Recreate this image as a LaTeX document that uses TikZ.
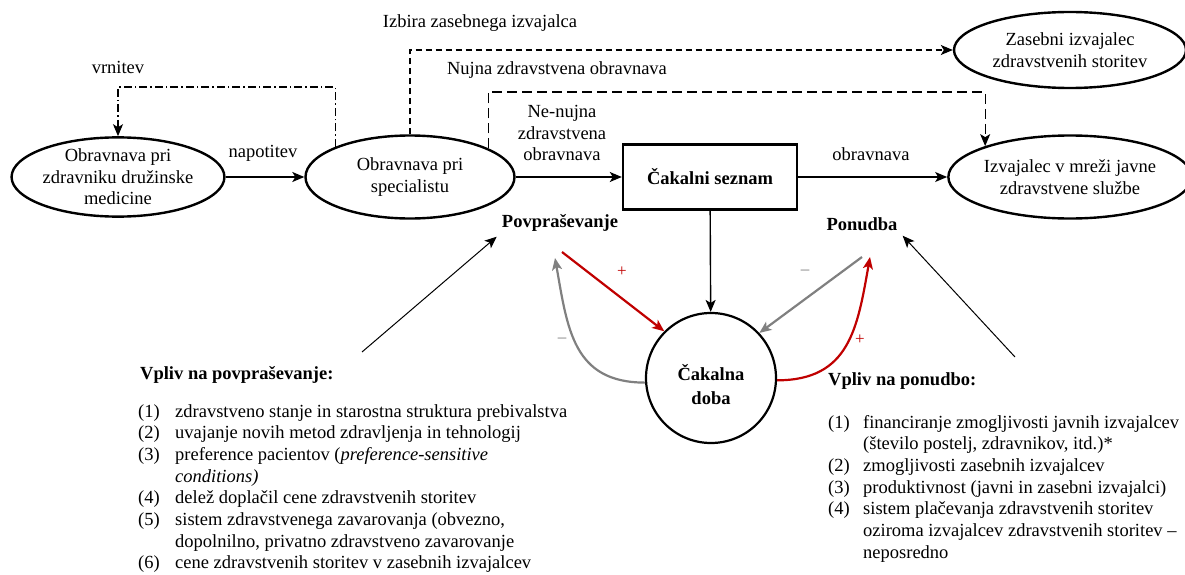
\documentclass[tikz,border=0pt]{standalone}
\usepackage{fontspec}
\setmainfont{Liberation Serif}
\usepackage{tikz}
\usetikzlibrary{positioning, arrows.meta, shapes.geometric}

\definecolor{posred}{RGB}{192,0,0}
\definecolor{neggray}{RGB}{128,128,128}

\begin{document}
\begin{tikzpicture}[x=1pt, y=1pt,
    every node/.style={font=\fontsize{18.5}{21.5}\selectfont, align=center, inner sep=0pt},
    oval/.style={draw, ellipse, line width=2.4pt},
    lbl/.style={inner sep=5pt, font=\fontsize{18.5}{21.5}\selectfont\bfseries},
    sign/.style={font=\fontsize{17}{17}\selectfont},
    listbox/.style={anchor=base west, align=left, font=\fontsize{18.5}{21.7}\selectfont},
    >={Stealth[length=12pt, width=10pt, inset=3pt]},
    flow/.style={->, line width=1.4pt},
    retline/.style={->, line width=1.2pt, dash pattern=on 8pt off 3pt on 1.5pt off 3pt},
    privline/.style={->, line width=1.3pt, dash pattern=on 6pt off 4pt},
    urgline/.style={->, line width=1.3pt, dash pattern=on 10pt off 5pt},
    posarrow/.style={->, line width=2.2pt, posred},
    negarrow/.style={->, line width=2.2pt, neggray},
    infl/.style={->, line width=1pt}
]
\useasboundingbox (0,0) rectangle (1185,-575);

\node[oval, minimum width=211pt, minimum height=79pt] (fam) at (118,-177) {Obravnava pri\\zdravniku družinske\\medicine};
\node[oval, minimum width=209pt, minimum height=83pt] (spec) at (410,-177) {Obravnava pri\\specialistu};
\node[draw, line width=2.4pt, minimum width=174pt, minimum height=65pt, font=\fontsize{18.5}{21.5}\selectfont\bfseries] (wl) at (710,-177) {Čakalni seznam};
\node[oval, minimum width=232pt, minimum height=76pt] (priv) at (1070,-50) {Zasebni izvajalec\\zdravstvenih storitev};
\node[oval, minimum width=232pt, minimum height=83pt] (pub) at (1070,-177) {Izvajalec v mreži javne\\zdravstvene službe};
\node[draw, circle, line width=2.2pt, minimum size=130pt] (wait) at (711,-378) {};
\node[font=\fontsize{18.5}{24}\selectfont\bfseries] (waittxt) at (711,-385) {Čakalna\\doba};

\node (ref) at (263,-153) {napotitev};
\node (ret) at (118,-67) {vrnitev};
\node (choice) at (480,-23) {Izbira zasebnega izvajalca};
\node (urg) at (557,-70) {Nujna zdravstvena obravnava};
\node (nonurg) at (562,-133) {Ne-nujna\\zdravstvena\\obravnava};
\node (treat) at (871,-154) {obravnava};
\node[lbl] (dem) at (560,-223) {Povpraševanje};
\node[lbl] (offer) at (862,-224) {Ponudba};

\draw[flow] (fam) -- (spec);
\draw[flow] (spec) -- (wl);
\draw[flow] (wl) -- (pub);
\draw[flow] (wl) -- (wait);

\coordinate (retc) at (200,-87);
\coordinate (urgc) at (700,-92);
\draw[retline] (spec.158) |- (retc) -| (fam.north);
\draw[privline] (spec.north) |- (priv.west);
\draw[urgline] (spec.20) |- (urgc) -| (pub.160);

\coordinate (demp) at (562,-252);
\coordinate (demm) at (555,-258);
\coordinate (offm) at (862,-257);
\coordinate (offp) at (870,-257);
\draw[posarrow] (demp) -- (wait.135);
\draw[negarrow] (wait.184) to[out=180, in=-80, looseness=1.2] (demm);
\draw[negarrow] (offm) -- (wait.43);
\draw[posarrow] (wait.-2) to[out=0, in=-100, looseness=1.2] (offp);

\node[sign, posred] (s1) at (622,-272) {+};
\node[sign, neggray] (s2) at (562,-340) {–};
\node[sign, neggray] (s3) at (805,-272) {–};
\node[sign, posred] (s4) at (860,-340) {+};

\coordinate (dinf) at (362,-352);
\coordinate (oinf) at (1015,-357);
\draw[infl] (dinf) -- (dem.south west);
\draw[infl] (oinf) -- (offer.south east);

\node[anchor=base west, font=\fontsize{18.5}{21.5}\selectfont\bfseries] (dhead) at (140,-379) {Vpliv na povpraševanje:};
\node[anchor=base west, font=\fontsize{18.5}{21.5}\selectfont\bfseries] (ohead) at (828,-385) {Vpliv na ponudbo:};

\node[listbox] (dlist) at (138,-417) {%
\begin{tabular}[t]{@{}p{37pt}@{}l@{}}
(1) & zdravstveno stanje in starostna struktura prebivalstva\\
(2) & uvajanje novih metod zdravljenja in tehnologij\\
(3) & preference pacientov (\textit{preference-sensitive}\\
    & \textit{conditions)}\\
(4) & delež doplačil cene zdravstvenih storitev\\
(5) & sistem zdravstvenega zavarovanja (obvezno,\\
    & dopolnilno, privatno zdravstveno zavarovanje\\
(6) & cene zdravstvenih storitev v zasebnih izvajalcev
\end{tabular}};

\node[listbox] (olist) at (828,-428) {%
\begin{tabular}[t]{@{}p{35pt}@{}l@{}}
(1) & financiranje zmogljivosti javnih izvajalcev\\
    & (število postelj, zdravnikov, itd.)*\\
(2) & zmogljivosti zasebnih izvajalcev\\
(3) & produktivnost (javni in zasebni izvajalci)\\
(4) & sistem plačevanja zdravstvenih storitev\\
    & oziroma izvajalcev zdravstvenih storitev –\\
    & neposredno
\end{tabular}};
\end{tikzpicture}
\end{document}
